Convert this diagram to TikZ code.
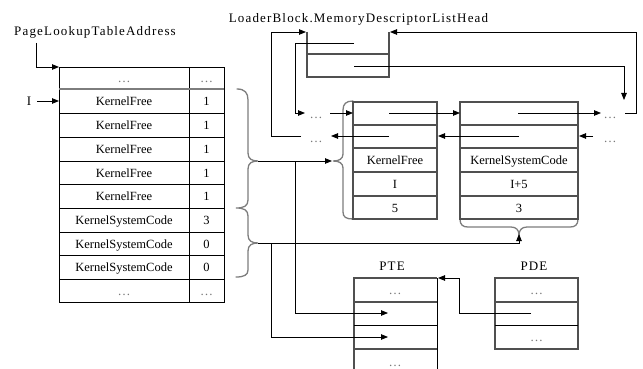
\documentclass[tikz,border=0pt]{standalone}
\usepackage{fontspec}
\setmainfont{Liberation Serif}
\newfontfamily\wideserif[LetterSpace=9]{Liberation Serif}
\usetikzlibrary{arrows.meta}

\definecolor{braceGray}{RGB}{125,125,125}
\definecolor{boxGray}{RGB}{80,80,80}
\definecolor{dotGray}{RGB}{120,120,120}

\tikzset{
  wire/.style={line width=0.8pt, black},
  arr/.style={wire, -{Triangle[length=7pt,width=5.5pt]}},
  bracepath/.style={line width=1.3pt, braceGray, line cap=round},
  tbl/.style={line width=0.9pt, black},
  frame/.style={line width=1.1pt, boxGray},
  cell/.style={font=\fontsize{12.5}{14}\selectfont, anchor=base, inner sep=0pt},
  dots/.style={font=\fontsize{13}{14}\selectfont, text=dotGray, anchor=base, inner sep=0pt},
  title/.style={font=\wideserif\fontsize{13}{15}\selectfont, anchor=base, inner sep=0pt},
}

\begin{document}
\begin{tikzpicture}[x=1pt,y=-1pt]
\useasboundingbox (0,0) rectangle (643,369);

% ---------- labels ----------
\node[title] (plta) at (95,35.5) {PageLookupTableAddress};
\node[title] (ldr) at (358.5,23) {LoaderBlock.MemoryDescriptorListHead};
\node[title] (lblI) at (29,105.5) {I};
\node[title] (pte) at (392,270) {PTE};
\node[title] (pde) at (534,270) {PDE};

% ---------- page lookup table ----------
\draw[tbl] (59,67) rectangle (224,302);
\draw[tbl] (189,67) -- (189,302);
\draw[line width=1.3pt, braceGray] (59,89) -- (224,89);
\foreach \y in {113,137,161,184,208,232,255,279}
  \draw[tbl] (59,\y) -- (224,\y);

\node[dots] (t0a) at (124,82.5) {…};
\node[dots] (t0b) at (206.5,82.5) {…};
\foreach \m [count=\i] in {101,125,149,172.5,196}{
  \node[cell] (tk\i) at (124,\m+4.5) {KernelFree};
  \node[cell] (tv\i) at (206.5,\m+4.5) {1};
}
\foreach \m/\v [count=\i] in {220/3,243.5/0,267/0}{
  \node[cell] (ts\i) at (124,\m+4.5) {KernelSystemCode};
  \node[cell] (tw\i) at (206.5,\m+4.5) {\v};
}
\node[dots] (t9a) at (124,295) {…};
\node[dots] (t9b) at (206.5,295) {…};

% ---------- braces ----------
\draw[bracepath] (237,89) .. controls (245,89) and (248,93) .. (248,100)
  -- (248,153) .. controls (248,159) and (252,161) .. (258,161)
  .. controls (252,161) and (248,163) .. (248,169)
  -- (248,200) .. controls (248,206) and (244,208) .. (236,208)
  .. controls (244,208) and (248,210) .. (248,216)
  -- (248,235) .. controls (248,241) and (252,243) .. (258,243)
  .. controls (252,243) and (248,245) .. (248,251)
  -- (248,270) .. controls (248,275) and (244,277) .. (236,277);
\coordinate (braceA) at (258,161);
\coordinate (braceB) at (258,243);

\draw[bracepath] (353,101) .. controls (346,101) and (343,104) .. (343,110)
  -- (343,154) .. controls (343,159) and (339,161) .. (333,161)
  .. controls (339,161) and (343,163) .. (343,168)
  -- (343,212) .. controls (343,217) and (346,219) .. (353,219);
\coordinate (braceC) at (332,161);

\draw[bracepath] (460,219) .. controls (460,225) and (463,227) .. (468,227)
  -- (511,227) .. controls (516,227) and (519,230) .. (519,235)
  .. controls (519,230) and (522,227) .. (527,227)
  -- (570,227) .. controls (575,227) and (578,225) .. (578,219);
\coordinate (braceD) at (519,234);

% ---------- list head ----------
\draw[frame] (307,32) -- (307,77) -- (389,77) -- (389,32);
\draw[frame] (307,54) -- (389,54);

% ---------- descriptors ----------
\draw[frame] (353,102) rectangle (437,219);
\draw[frame] (460,102) rectangle (578,219);
\foreach \y in {125,148,172,196}{
  \draw[frame] (353,\y) -- (437,\y);
  \draw[frame] (460,\y) -- (578,\y);
}
\node[cell] (d1a) at (395,164.5) {KernelFree};
\node[cell] (d1b) at (395,188.5) {I};
\node[cell] (d1c) at (395,212) {5};
\node[cell] (d2a) at (519,164.5) {KernelSystemCode};
\node[cell] (d2b) at (519,188.5) {I+5};
\node[cell] (d2c) at (519,212) {3};

\node[dots] (lf) at (316,118) {…};
\node[dots] (lb) at (316,142) {…};
\node[dots] (rf) at (610,118) {…};
\node[dots] (rb) at (610,142) {…};

% ---------- PTE / PDE ----------
\draw[frame] (354,372) -- (354,278) -- (437,278);
\draw[tbl] (437,278) -- (437,372);
\draw[frame] (354,302) -- (437,302);
\draw[tbl] (354,325) -- (437,325);
\draw[frame] (354,349) -- (437,349);
\node[dots] (p1) at (395,294) {…};
\node[dots] (p4) at (395,366) {…};

\draw[frame] (495,278) rectangle (578,349);
\draw[frame] (495,302) -- (578,302);
\draw[tbl] (495,325) -- (578,325);
\node[dots] (q1) at (536.5,294) {…};
\node[dots] (q3) at (536.5,341) {…};

% ---------- connector end points ----------
\coordinate (pltaFoot) at (36,43);
\coordinate (tblTop) at (59,67);
\coordinate (iFrom) at (37,101);
\coordinate (rowI) at (59,101);
\coordinate (pteA) at (388,313);
\coordinate (pteB) at (388,337);
\coordinate (hFl) at (354,43);
\coordinate (hBl) at (354,66);
\coordinate (lfIn) at (305,113);
\coordinate (lfOut) at (330,113);
\coordinate (d1L) at (353,113);
\coordinate (d1F) at (389,113);
\coordinate (d2L) at (460,113);
\coordinate (d2F) at (518,113);
\coordinate (rfIn) at (601,113);
\coordinate (rfDown) at (624,100);
\coordinate (rfOut) at (625,113);
\coordinate (hR) at (390,32);
\coordinate (hL) at (306,32);
\coordinate (lbOut) at (301,136);
\coordinate (lbIn) at (331,136);
\coordinate (d1B) at (389,136);
\coordinate (d1R) at (438,136);
\coordinate (d2B) at (519,136);
\coordinate (d2R) at (579,136);
\coordinate (rbOut) at (593,136);
\coordinate (pdeE) at (531,313);
\coordinate (pteTop) at (438,278);

% ---------- connectors ----------
\draw[arr] (pltaFoot) |- (tblTop);
\draw[arr] (iFrom) -- (rowI);
\draw[arr] (braceA) -- (braceC);
\draw[arr] (braceB) -| (braceD);
\draw[arr] (295,161) |- (pteA);
\draw[arr] (271,243) |- (pteB);

\draw[arr] (hFl) -- (295,43) |- (lfIn);
\draw[arr] (lfOut) -- (d1L);
\draw[arr] (d1F) -- (d2L);
\draw[arr] (d2F) -- (rfIn);
\draw[arr] (hBl) -| (rfDown);
\draw[arr] (rfOut) -- (636,113) |- (hR);

\draw[arr] (lbOut) -- (271,136) |- (hL);
\draw[arr] (d1B) -- (lbIn);
\draw[arr] (d2B) -- (d1R);
\draw[arr] (rbOut) -- (d2R);

\draw[arr] (pdeE) -- (459,313) |- (pteTop);
\end{tikzpicture}
\end{document}
